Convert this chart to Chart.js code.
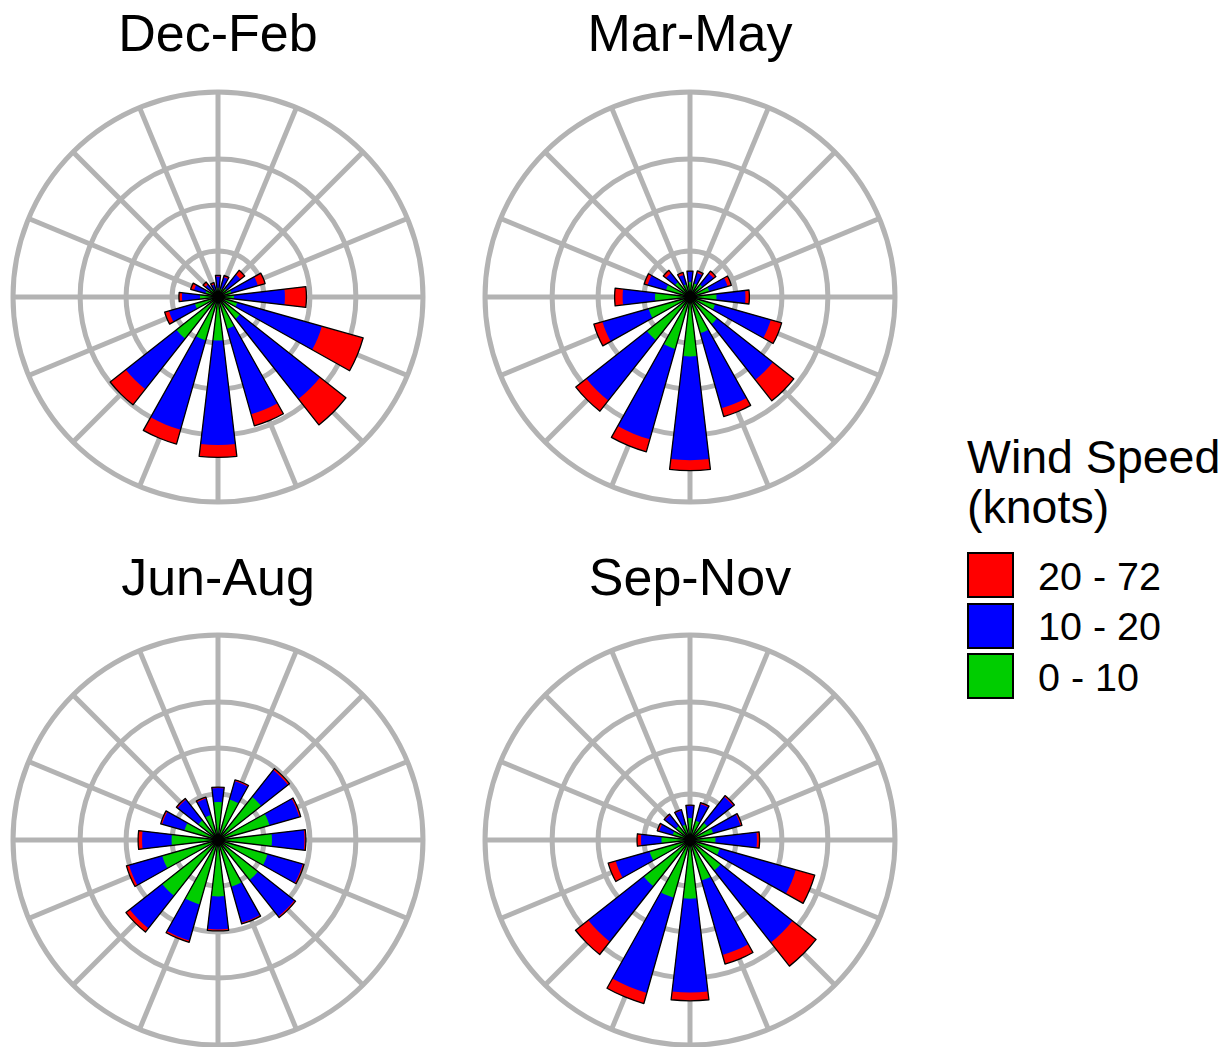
<!DOCTYPE html>
<html>
<head>
<meta charset="utf-8">
<title>Seasonal wind roses</title>
<script src="https://cdn.jsdelivr.net/npm/chart.js@4.4.1/dist/chart.umd.min.js"></script>
<style>
  html, body { margin: 0; padding: 0; background: #ffffff; }
  body {
    position: relative; width: 1225px; height: 1047px; overflow: hidden;
    font-family: "Liberation Sans", Arial, Helvetica, sans-serif; color: #000;
  }
  canvas.rose { position: absolute; }
  .panel-title {
    position: absolute; width: 430px; text-align: center;
    font-size: 52px; line-height: 1; white-space: nowrap;
  }
  .legend-title { position: absolute; font-size: 46.5px; line-height: 1; white-space: nowrap; }
  .legend-key {
    position: absolute; width: 47px; height: 46px; box-sizing: border-box;
    border: 2px solid #000;
  }
  .legend-label { position: absolute; font-size: 39.5px; line-height: 1; white-space: nowrap; }
</style>
</head>
<body>
<script>
// Compass sectors, clockwise from north
const directions = ['N', 'NNE', 'NE', 'ENE', 'E', 'ESE', 'SE', 'SSE',
                    'S', 'SSW', 'SW', 'WSW', 'W', 'WNW', 'NW', 'NNW'];
const seasons = ['Dec-Feb', 'Mar-May', 'Jun-Aug', 'Sep-Nov'];
const speedBins = ['0 - 10', '10 - 20', '20 - 72'];
const speedColors = ['#00CD00', '#0000FF', '#FF0000'];
const legendTitle = ['Wind Speed', '(knots)'];

// Radial grid rings (% of observations) and the outer ring
const gridTicks = [5, 10, 15];
const radialMax = 22.3;

// Frequency (%) per direction for each speed bin
const decFebLow  = [0.98, 0.98, 1.20, 1.52, 1.74, 2.17, 3.04, 3.59, 4.73, 4.89, 5.76, 2.61, 1.96, 1.41, 1.14, 0.76];
const decFebMid  = [1.25, 1.25, 1.90, 2.99, 5.54, 9.57, 11.09, 9.67, 11.36, 10.11, 7.01, 2.93, 1.96, 1.30, 0.60, 0.65];
const decFebHigh = [0.13, 0.20, 0.60, 0.82, 2.34, 4.67, 3.59, 1.30, 1.36, 1.63, 2.17, 0.49, 0.33, 0.38, 0.33, 0.22];

const marMayLow  = [1.63, 1.52, 1.74, 2.17, 2.88, 2.83, 3.75, 4.08, 6.47, 5.87, 5.98, 4.67, 3.80, 2.72, 2.07, 1.41];
const marMayMid  = [1.14, 1.20, 1.52, 2.07, 3.15, 6.30, 7.72, 8.50, 11.28, 10.22, 8.37, 5.22, 3.53, 2.07, 1.25, 1.09];
const marMayHigh = [0.05, 0.22, 0.33, 0.43, 0.43, 1.23, 2.91, 0.93, 1.13, 1.41, 1.47, 0.98, 0.87, 0.38, 0.38, 0.27];

const junAugLow  = [4.13, 4.57, 5.98, 5.82, 5.87, 5.60, 5.54, 5.27, 6.14, 7.28, 7.72, 6.30, 5.05, 3.80, 2.72, 2.83];
const junAugMid  = [1.52, 2.07, 3.70, 3.37, 3.53, 3.97, 5.05, 4.08, 3.59, 4.08, 4.51, 3.75, 3.21, 2.50, 2.88, 1.85];
const junAugHigh = [0.11, 0.16, 0.22, 0.16, 0.16, 0.16, 0.16, 0.14, 0.16, 0.20, 0.52, 0.30, 0.43, 0.18, 0.16, 0.16];

const sepNovLow  = [2.39, 2.17, 2.39, 2.61, 2.77, 3.37, 4.24, 4.57, 6.38, 6.52, 6.41, 4.57, 3.10, 1.96, 1.96, 1.74];
const sepNovMid  = [1.30, 1.90, 3.59, 3.10, 4.51, 8.59, 9.97, 8.42, 10.22, 10.76, 7.68, 3.83, 2.23, 1.52, 1.52, 1.58];
const sepNovHigh = [0.11, 0.16, 0.17, 0.16, 0.29, 2.14, 3.26, 1.03, 0.90, 1.20, 1.77, 0.85, 0.43, 0.22, 0.11, 0.11];

const seasonBins = [
  [decFebLow, decFebMid, decFebHigh],
  [marMayLow, marMayMid, marMayHigh],
  [junAugLow, junAugMid, junAugHigh],
  [sepNovLow, sepNovMid, sepNovHigh]
];

// Layout
const panelCenters = [[218, 297], [690, 297], [218, 840], [690, 840]];
const titleTops = [6.5, 6.5, 551, 551];
const canvasSize = 430;
const canvasPad = 10;
const sectorAngle = 360 / directions.length;
const barAngle = sectorAngle * 0.6;
const gapAngle = sectorAngle - barAngle;
const gridColor = '#B3B3B3';
const gridWidth = 5;

// Each direction is one bar followed by an empty gap slice
function withGaps(values) {
  const out = [];
  values.forEach(v => { out.push(v); out.push(0); });
  return out;
}
function stackUpTo(bins, level) {
  return directions.map((_, i) => {
    let s = 0;
    for (let k = 0; k <= level; k++) s += bins[k][i];
    return s;
  });
}
const sliceAngle = ctx => (ctx.dataIndex % 2 === 0 ? barAngle : gapAngle);

function buildRose(canvas, bins) {
  const totals = stackUpTo(bins, 2);
  const datasets = [{
    // outline around each whole bar, drawn on top
    data: withGaps(totals),
    rAxisID: 'bars',
    angle: sliceAngle,
    backgroundColor: 'rgba(0,0,0,0)',
    borderColor: '#000000',
    borderWidth: ctx => (ctx.dataIndex % 2 === 0 ? 1.3 : 0),
    borderJoinStyle: 'round'
  }];
  for (let level = 0; level < speedBins.length; level++) {
    datasets.push({
      label: speedBins[level],
      data: withGaps(stackUpTo(bins, level)),
      rAxisID: 'bars',
      angle: sliceAngle,
      backgroundColor: speedColors[level],
      borderWidth: 0
    });
  }
  return new Chart(canvas, {
    type: 'polarArea',
    data: { labels: directions, datasets },
    options: {
      responsive: false,
      animation: false,
      events: [],
      layout: { padding: canvasPad },
      plugins: { legend: { display: false }, tooltip: { enabled: false } },
      scales: {
        r: {
          type: 'radialLinear', axis: 'r',
          min: 0, max: radialMax, startAngle: 0,
          ticks: { display: false },
          pointLabels: { display: false },
          grid: { display: true, circular: true, color: gridColor, lineWidth: gridWidth },
          angleLines: { display: true, color: gridColor, lineWidth: gridWidth },
          afterBuildTicks: scale => {
            scale.ticks = [0, ...gridTicks, radialMax].map(v => ({ value: v }));
          }
        },
        bars: {
          type: 'radialLinear', axis: 'r',
          min: 0, max: radialMax, startAngle: -barAngle / 2,
          ticks: { display: false },
          pointLabels: { display: false },
          grid: { display: false },
          angleLines: { display: false }
        }
      }
    }
  });
}

seasons.forEach((name, p) => {
  const [cx, cy] = panelCenters[p];
  const canvas = document.createElement('canvas');
  canvas.className = 'rose';
  canvas.width = canvasSize;
  canvas.height = canvasSize;
  canvas.style.left = (cx - canvasSize / 2) + 'px';
  canvas.style.top = (cy - canvasSize / 2) + 'px';
  document.body.appendChild(canvas);
  buildRose(canvas, seasonBins[p]);

  const title = document.createElement('div');
  title.className = 'panel-title';
  title.textContent = name;
  title.style.left = (cx - 215) + 'px';
  title.style.top = titleTops[p] + 'px';
  document.body.appendChild(title);
});

// Legend: highest speed bin first
legendTitle.forEach((line, i) => {
  const el = document.createElement('div');
  el.className = 'legend-title';
  el.textContent = line;
  el.style.left = '967px';
  el.style.top = (434 + i * 50) + 'px';
  document.body.appendChild(el);
});
speedBins.slice().reverse().forEach((label, i) => {
  const color = speedColors[speedBins.length - 1 - i];
  const key = document.createElement('div');
  key.className = 'legend-key';
  key.style.left = '967px';
  key.style.top = (552 + i * 50.5) + 'px';
  key.style.background = color;
  document.body.appendChild(key);
  const text = document.createElement('div');
  text.className = 'legend-label';
  text.textContent = label;
  text.style.left = '1038px';
  text.style.top = (556.6 + i * 50.5) + 'px';
  document.body.appendChild(text);
});
</script>
</body>
</html>
